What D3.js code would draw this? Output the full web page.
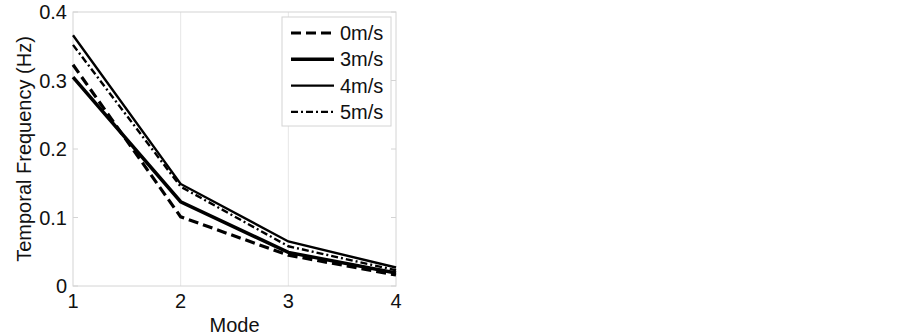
<!DOCTYPE html>
<meta charset="utf-8">
<style>
body { margin: 0; background: #fff; }
svg { display: block; }
text { font-family: "Liberation Sans", Arial, sans-serif; fill: #111; }
</style>
<script src="https://d3js.org/d3.v7.min.js"></script>
<body></body>
<script>

var modes = [1, 2, 3, 4];
var yTicks = [0, 0.1, 0.2, 0.3, 0.4];
var speeds = ['0m/s', '3m/s', '4m/s', '5m/s'];
var v0 = [0.323, 0.101, 0.045, 0.016];
var v3 = [0.305, 0.123, 0.049, 0.019];
var v4 = [0.366, 0.149, 0.065, 0.027];
var v5 = [0.352, 0.145, 0.058, 0.023];

var series = [
	{ name: speeds[0], values: v0, width: 3.2, dash: '10,5' },
	{ name: speeds[1], values: v3, width: 3.5, dash: null },
	{ name: speeds[2], values: v4, width: 2.4, dash: null },
	{ name: speeds[3], values: v5, width: 2.4, dash: '7,3,2,3' }
];

var width = 902, height = 336;
var plotL = 73, plotR = 396, plotT = 12, plotB = 286;

var svg = d3.select('body').append('svg')
	.attr('width', width)
	.attr('height', height);

var x = d3.scaleLinear().domain([1, 4]).range([plotL, plotR]);
var y = d3.scaleLinear().domain([0, 0.4]).range([plotB, plotT]);

var axisColor = '#d4d4d4';

//vertical grid
svg.selectAll('.grid')
	.data(modes.slice(1, 3))
	.enter().append('line')
	.attr('x1', d => x(d)).attr('x2', d => x(d))
	.attr('y1', plotT).attr('y2', plotB)
	.attr('stroke', '#e6e6e6').attr('stroke-width', 1);

//box
svg.append('rect')
	.attr('x', plotL).attr('y', plotT)
	.attr('width', plotR - plotL).attr('height', plotB - plotT)
	.attr('fill', 'none').attr('stroke', axisColor).attr('stroke-width', 1);

//inward ticks
svg.selectAll('.ytick')
	.data(yTicks)
	.enter().append('line')
	.attr('x1', plotR).attr('x2', plotR - 5)
	.attr('y1', d => y(d)).attr('y2', d => y(d))
	.attr('stroke', axisColor);
svg.selectAll('.ytickl')
	.data(yTicks)
	.enter().append('line')
	.attr('x1', plotL).attr('x2', plotL + 5)
	.attr('y1', d => y(d)).attr('y2', d => y(d))
	.attr('stroke', axisColor);

//tick labels
svg.selectAll('.ylab')
	.data(yTicks)
	.enter().append('text')
	.attr('x', plotL - 6)
	.attr('y', d => y(d) + 7)
	.attr('text-anchor', 'end')
	.style('font-size', '20px')
	.text(d => d === 0 ? '0' : d3.format('.1f')(d));

svg.selectAll('.xlab')
	.data(modes)
	.enter().append('text')
	.attr('x', d => x(d))
	.attr('y', plotB + 22)
	.attr('text-anchor', 'middle')
	.style('font-size', '20px')
	.text(d => d);

svg.append('text')
	.attr('x', (plotL + plotR) / 2)
	.attr('y', 332)
	.attr('text-anchor', 'middle')
	.style('font-size', '20px')
	.text('Mode');

svg.append('text')
	.attr('transform', 'translate(' + 31 + ',' + (plotT + plotB) / 2 + ') rotate(-90)')
	.attr('text-anchor', 'middle')
	.style('font-size', '20px')
	.text('Temporal Frequency (Hz)');

//lines
var line = d3.line()
	.x((d, i) => x(modes[i]))
	.y(d => y(d));

svg.selectAll('.series')
	.data(series)
	.enter().append('path')
	.attr('d', d => line(d.values))
	.attr('fill', 'none')
	.attr('stroke', '#000')
	.attr('stroke-width', d => d.width)
	.attr('stroke-dasharray', d => d.dash);

//legend
var lg = svg.append('g');
lg.append('rect')
	.attr('x', 282).attr('y', 17)
	.attr('width', 109).attr('height', 109)
	.attr('fill', '#fff').attr('stroke', axisColor);

var rows = lg.selectAll('.row')
	.data(series)
	.enter().append('g')
	.attr('transform', (d, i) => 'translate(0,' + (33 + i * 26.3) + ')');
rows.append('line')
	.attr('x1', 291).attr('x2', 334)
	.attr('y1', 0).attr('y2', 0)
	.attr('stroke', '#000')
	.attr('stroke-width', d => d.width)
	.attr('stroke-dasharray', d => d.dash);
rows.append('text')
	.attr('x', 340).attr('y', 7)
	.style('font-size', '20px')
	.text(d => d.name);

</script>
